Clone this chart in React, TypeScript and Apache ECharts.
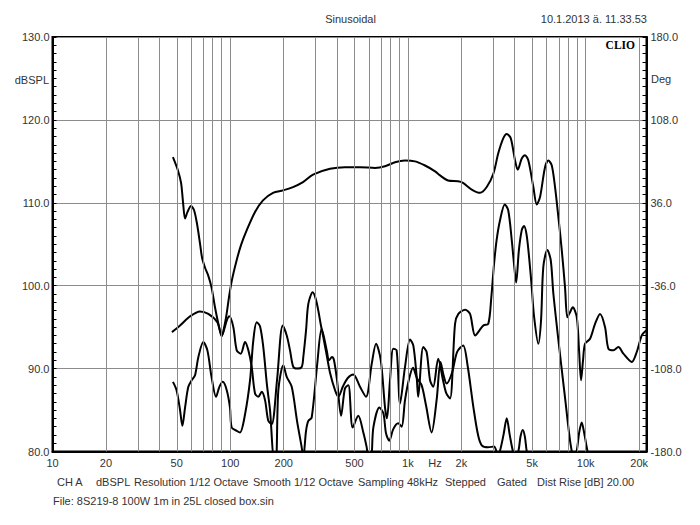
import React, { useEffect, useRef } from "react";
import * as echarts from "echarts";

// Frequency response (SPL), Hz / dB
const splData: [number, number][] = [
  [47.6,115.5],[50.8,113.9],[52.9,112.4],[54.3,110.0],[55.7,108.1],[57.5,108.9],[60.2,109.6],[62.6,109.1],
  [65.0,107.5],[67.6,105.1],[69.4,103.4],[72.1,102.2],[75.0,101.3],[78.5,99.8],[82.1,97.4],[85.4,95.6],
  [89.6,93.9],[92.3,94.9],[95.6,96.7],[98.4,98.6],[102.3,100.7],[108.8,103.1],[115,104.9],[123.9,106.7],
  [137.9,108.9],[152.9,110.3],[174.1,111.2],[198.2,111.5],[225.6,111.9],[256.8,112.5],[292.4,113.4],
  [364.4,114.1],[442,114.3],[538,114.3],[653,114.2],[743,114.4],[846,114.9],[963,115.1],[1096,115.0],
  [1248,114.5],[1421,113.8],[1516,113.3],[1681,112.7],[1914,112.6],[2042,112.4],[2286,111.6],[2545,111.2],
  [2776,111.9],[3024,113.5],[3226,116.0],[3443,117.8],[3597,118.3],[3788,117.8],[4006,115.1],[4148,114.0],
  [4370,115.35],[4560,115.75],[4760,115.1],[5078,111.9],[5306,109.8],[5538,110.7],[5908,114.3],[6168,115.1],
  [6447,114.5],[6726,111.9],[7022,108.3],[7338,104.3],[7656,99.8],[7889,96.2],[8169,96.8],[8461,97.4],
  [8914,96.2],[9183,92.2],[9419,88.6],[9667,91.0],[9921,93.0],[10587,93.6],[11296,95.4],[12050,96.6],
  [12859,95.0],[13424,92.4],[14321,92.2],[15280,92.6],[16300,91.8],[18180,90.8],[19390,92.0],[20690,94.0],
  [21880,94.6],
];

// 2nd harmonic (+20 dB)
const d2Data: [number, number][] = [
  [47.0,94.4],[52.2,95.2],[59.4,96.3],[67.6,96.9],[75.3,96.6],[84.6,95.6],[89.6,94.0],[95.6,95.8],[98.8,96.3],
  [104.1,95.0],[108.8,92.2],[114.6,91.8],[121.2,93.2],[126.5,92.2],[132.1,90.2],[137.9,87.0],[143.9,86.6],
  [150.4,87.2],[157,86.2],[163.8,83.7],[171.2,83.3],[183.4,88.6],[197.4,95.2],[208,94.0],[217,92.2],
  [226.5,90.2],[237.6,90.0],[252.5,90.2],[257.8,91.4],[267.1,94.6],[275.1,97.8],[291.2,99.2],[302,98.5],
  [313.1,97.0],[324,95.2],[334.1,93.8],[349.2,91.6],[364.4,89.5],[388.8,87.4],[405.9,86.6],[431.7,87.9],
  [460,88.9],[492.5,89.3],[537.6,87.8],[580.8,86.6],[625.9,90.6],[661.6,93.0],[703.5,91.0],[743.2,85.3],
  [762.4,84.0],[793,88.6],[827,92.4],[864,92.2],[903,85.8],[963,90.2],[1028,93.5],[1072,92.8],[1120,89.0],
  [1142,86.6],[1219,92.6],[1274,92.0],[1332,88.6],[1388,87.8],[1480,91.2],[1576,88.6],[1645,87.0],
  [1726,86.4],[1841,95.4],[1922,96.6],[2100,97.1],[2236,96.6],[2391,94.0],[2657,95.2],[2833,95.4],
  [2946,98.6],[3048,102.5],[3155,105.5],[3298,107.9],[3508,109.8],[3667,109.1],[3839,105.5],[3966,102.3],
  [4063,100.4],[4211,104.3],[4370,106.7],[4500,107.2],[4656,106.1],[4822,103.1],[4974,99.8],[5119,96.4],
  [5417,93.0],[5610,95.8],[5780,102.3],[6086,104.3],[6360,103.1],[6585,99.0],[7175,91.7],[7656,86.5],
  [8169,81.3],[8610,78.5],
];

// 3rd harmonic (+20 dB)
const d3Data: [number, number][] = [
  [47.6,88.4],[49.9,87.4],[52.2,85.0],[53.8,83.1],[55.7,85.3],[58.1,87.8],[60.7,88.6],[63.4,89.2],[66.2,91.4],
  [70.6,93.2],[74.4,92.2],[78.5,89.0],[83.2,86.6],[86.9,87.8],[90.8,88.4],[95.6,87.4],[99.7,85.3],[101.9,82.9],
  [108.8,82.5],[113.5,82.3],[121.2,84.5],[129.3,88.6],[134.9,93.4],[140.9,95.6],[147.1,95.1],[153.5,92.6],
  [161,88.0],[167.5,85.0],[176.4,79.3],[181.1,79.3],[186.6,87.4],[199,90.4],[208,89.0],[221.9,87.8],
  [237.6,83.7],[252.5,80.5],[257.8,79.3],[267.1,82.5],[275.1,83.7],[287.4,84.1],[308.9,90.6],[326.9,94.8],
  [349.2,92.2],[359.6,91.0],[374,91.4],[383.7,91.0],[399,88.6],[420.6,84.3],[442.1,87.6],[462.3,88.0],
  [488.8,82.9],[525.4,84.3],[561,82.3],[586.2,80.5],[598.8,79.3],[620.5,79.3],[639,82.9],[690.7,85.3],
  [727.7,84.6],[752.8,82.2],[785.2,81.3],[827,82.7],[881.6,83.4],[921.5,83.0],[962.9,86.2],[1011,88.6],
  [1068,90.1],[1125,88.8],[1194,88.0],[1263,85.6],[1359,82.3],[1450,86.2],[1526,90.8],[1587,89.2],
  [1650,88.2],[1771,89.5],[1890,92.0],[2045,92.8],[2165,90.4],[2337,85.3],[2486,81.9],[2612,80.7],
  [2822,80.5],[3048,80.6],[3215,79.6],[3298,80.1],[3450,82.0],[3597,84.0],[3740,82.0],[3890,80.1],
  [4006,79.3],[4187,80.1],[4300,81.8],[4427,82.6],[4550,81.8],[4656,80.1],[4800,79.0],[8610,79.0],
  [8914,80.1],[9200,82.3],[9499,83.5],[9800,82.3],[10230,80.1],[10587,79.0],
];

const gridFreqs = [20,30,40,50,60,70,80,90,100,200,300,400,500,600,700,800,900,1000,
  2000,3000,4000,5000,6000,7000,8000,9000,10000,20000];
const xTickFreqs = [10,20,50,100,200,500,1000,1420,2000,5000,10000,20000];
const xTickLabels = ["10","20","50","100","200","500","1k","Hz","2k","5k","10k","20k"];
const X_MIN = 10;
const X_MAX = 22000;

const bottomItems: [string, number][] = [
  ["CH A", 57],["dBSPL", 96],["Resolution 1/12 Octave", 134],["Smooth 1/12 Octave", 253],
  ["Sampling 48kHz", 358],["Stepped", 445],["Gated", 497],["Dist Rise [dB] 20.00", 537],
];

const FONT = "'Liberation Sans', Arial, sans-serif";
const TXT = "#333";

function toLog(d: [number, number][]) {
  return d.map(([f, v]) => [Math.log10(f), v]);
}

function curve(name: string, d: [number, number][]) {
  return {
    type: "line",
    name,
    data: toLog(d),
    showSymbol: false,
    symbol: "none",
    smooth: 0.3,
    clip: true,
    silent: true,
    z: 3,
    lineStyle: { color: "#000", width: 2 },
  };
}

function txt(text: string, x: number, y: number, align: string, extra: any = {}) {
  return {
    type: "text",
    x,
    y,
    silent: true,
    style: {
      text,
      fill: TXT,
      fontSize: 11,
      fontFamily: FONT,
      align,
      textAlign: align,
      verticalAlign: "middle",
      textVerticalAlign: "middle",
      ...extra,
    },
  };
}

export default function App() {
  const ref = useRef<HTMLDivElement>(null);
  useEffect(() => {
    document.body.style.margin = "0";
    const chart = echarts.init(ref.current!, null, { renderer: "svg" });
    const option: any = {
      animation: false,
      backgroundColor: "#fff",
      grid: {
        left: 52.5, right: 53.5, top: 37, bottom: 73.5,
        show: true, borderColor: "#000", borderWidth: 2, backgroundColor: "transparent",
      },
      xAxis: {
        type: "value",
        min: Math.log10(X_MIN),
        max: Math.log10(X_MAX),
        splitLine: { show: false },
        axisTick: { show: false },
        axisLine: { show: true, lineStyle: { color: "#000", width: 2 } },
        axisLabel: {
          customValues: xTickFreqs.map((f) => Math.log10(f)),
          margin: 6,
          color: TXT,
          fontSize: 11,
          fontFamily: FONT,
          formatter: (v: number) => {
            const i = xTickFreqs.findIndex((f) => Math.abs(Math.log10(f) - v) < 1e-6);
            return i >= 0 ? xTickLabels[i] : "";
          },
        },
      },
      yAxis: [
        {
          type: "value",
          min: 80, max: 130, interval: 10,
          position: "left",
          axisLine: { show: true, lineStyle: { color: "#000", width: 2 } },
          axisTick: { show: true, inside: true, length: 4, lineStyle: { color: "#000", width: 1 } },
          minorTick: { show: true, splitNumber: 10, length: 4, lineStyle: { color: "#000", width: 1 } },
          splitLine: { show: true, lineStyle: { color: "#8c8c8c", width: 1 } },
          axisLabel: {
            margin: 3, color: TXT, fontSize: 11, fontFamily: FONT,
            formatter: (v: number) => v.toFixed(1),
          },
        },
        {
          type: "value",
          min: 0, max: 360, interval: 72,
          position: "right",
          axisLine: { show: true, lineStyle: { color: "#000", width: 2 } },
          axisTick: { show: true, inside: true, length: 4, lineStyle: { color: "#000", width: 1 } },
          minorTick: { show: true, splitNumber: 10, length: 4, lineStyle: { color: "#000", width: 1 } },
          splitLine: { show: false },
          axisLabel: {
            margin: 4, color: TXT, fontSize: 11, fontFamily: FONT,
            formatter: (v: number) => (v - 180).toFixed(1),
          },
        },
      ],
      series: [
        {
          type: "line",
          data: [[1, 130]],
          symbol: "none",
          showSymbol: false,
          silent: true,
          z: 1,
          lineStyle: { width: 0, opacity: 0 },
          markLine: {
            silent: true,
            animation: false,
            symbol: ["none", "none"],
            label: { show: false },
            lineStyle: { color: "#8c8c8c", width: 1, type: "solid" },
            data: gridFreqs.map((f) => ({ xAxis: Math.log10(f) })),
          },
        },
        curve("SPL", splData),
        curve("2nd", d2Data),
        curve("3rd", d3Data),
      ],
      graphic: [
        txt("Sinusoidal", 350.5, 19, "center"),
        txt("10.1.2013 ä. 11.33.53", 647, 19, "right"),
        txt("CLIO", 635, 45, "right", { fill: "#000", fontFamily: "'Liberation Serif', 'Times New Roman', serif", fontWeight: "bold", fontSize: 11.5 }),
        txt("dBSPL", 49, 80, "right"),
        txt("Deg", 651, 79, "left"),
        ...bottomItems.map(([t, x]) => txt(t, x, 482, "left")),
        txt("File: 8S219-8 100W 1m in 25L closed box.sin", 53, 501, "left"),
      ],
    };
    chart.setOption(option);
    return () => chart.dispose();
  }, []);
  return <div ref={ref} style={{ width: 700, height: 525 }} />;
}
